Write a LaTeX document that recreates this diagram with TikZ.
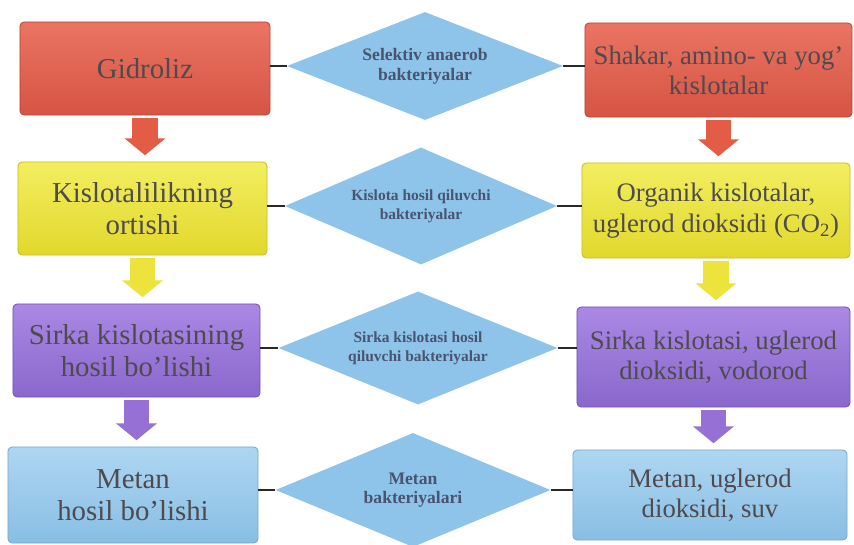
\documentclass[tikz,border=0pt]{standalone}
\usepackage{fontspec}
\setmainfont{Liberation Serif}
\usetikzlibrary{arrows.meta,positioning,shapes.geometric}
\definecolor{redtop}{RGB}{234,116,98}
\definecolor{redbot}{RGB}{214,84,68}
\definecolor{rededge}{RGB}{186,68,56}
\definecolor{yeltop}{RGB}{242,238,96}
\definecolor{yelbot}{RGB}{226,216,44}
\definecolor{yeledge}{RGB}{198,188,40}
\definecolor{purtop}{RGB}{170,136,228}
\definecolor{purbot}{RGB}{138,104,204}
\definecolor{puredge}{RGB}{112,84,176}
\definecolor{blutop}{RGB}{174,214,242}
\definecolor{blubot}{RGB}{136,190,228}
\definecolor{bluedge}{RGB}{118,168,206}
\definecolor{diacol}{RGB}{142,196,234}
\definecolor{txtcol}{RGB}{78,74,78}
\definecolor{diatxt}{RGB}{72,84,112}
\definecolor{linkcol}{RGB}{40,40,40}
\definecolor{arrred}{RGB}{226,92,70}
\definecolor{arryel}{RGB}{236,228,60}
\definecolor{arrpur}{RGB}{150,112,212}

\begin{document}
\begin{tikzpicture}[
  x=0.025cm, y=-0.025cm,
  stage/.style={
    draw=#1edge, line width=0.6pt, rounded corners=3pt,
    top color=#1top, bottom color=#1bot,
    align=center, text=txtcol, inner sep=2pt,
    font=\fontsize{20.5}{23}\selectfont
  },
  product/.style={
    draw=#1edge, line width=0.6pt, rounded corners=3pt,
    top color=#1top, bottom color=#1bot,
    align=center, text=txtcol, inner sep=2pt,
    font=\fontsize{19}{21.5}\selectfont
  },
  bact/.style={
    diamond, aspect=2.5, fill=diacol, inner sep=0pt, align=center, text=diatxt,
    font=\fontsize{12.5}{14}\selectfont\bfseries
  },
  link/.style={draw=linkcol, line width=1.1pt},
  down/.style={draw=#1, line width=17.8pt, shorten <=2pt, shorten >=4.5pt,
    -{Triangle[width=28.5pt,length=12pt]}}
]
\useasboundingbox (0,0) rectangle (854,545);

%% ===================== Left column: stages =====================
\node[stage=red, minimum width=6.25cm,  minimum height=2.325cm] (l1) at (145,68.5)  {Gidroliz};
\node[stage=yel, minimum width=6.225cm, minimum height=2.325cm] (l2) at (142.5,208.5) {Kislotalilikning\\ortishi};
\node[stage=pur, minimum width=6.175cm, minimum height=2.325cm] (l3) at (136.5,350.5) {Sirka kislotasining\\hosil bo'lishi};
\node[stage=blu, minimum width=6.25cm,  minimum height=2.4cm]   (l4) at (133,495)   {Metan\\hosil bo'lishi};

%% ===================== Middle: bacteria ========================
\node[bact, minimum width=6.9cm,   minimum height=2.7cm]   (d1) at (425,66)  {Selektiv anaerob\\bakteriyalar};
\node[bact, minimum width=6.8cm,   minimum height=2.925cm, font=\fontsize{11}{13.5}\selectfont\bfseries] (d2) at (421,206) {Kislota hosil qiluvchi\\bakteriyalar};
\node[bact, minimum width=6.975cm, minimum height=2.825cm, font=\fontsize{11}{13.5}\selectfont\bfseries] (d3) at (418,348) {Sirka kislotasi hosil\\qiluvchi bakteriyalar};
\node[bact, minimum width=6.875cm, minimum height=2.85cm]  (d4) at (413,490) {Metan\\bakteriyalari};

%% ===================== Right column: products ==================
\node[product=red, minimum width=6.675cm, minimum height=2.35cm]  (r1) at (718.5,70)  {Shakar, amino- va yog'\\kislotalar};
\node[product=yel, minimum width=6.7cm,   minimum height=2.375cm] (r2) at (716,210.5) {Organik kislotalar,\\uglerod dioksidi (CO\textsubscript{2})};
\node[product=pur, minimum width=6.825cm, minimum height=2.5cm]   (r3) at (713.5,357) {Sirka kislotasi, uglerod\\dioksidi, vodorod};
\node[product=blu, minimum width=6.85cm,  minimum height=2.25cm]  (r4) at (710,495)   {Metan, uglerod\\dioksidi, suv};

%% ===================== Short links =============================
\draw[link] (d1.west -| l1.east) -- (d1.west);
\draw[link] (d2.west -| l2.east) -- (d2.west);
\draw[link] (d3.west -| l3.east) -- (d3.west);
\draw[link] (d4.west -| l4.east) -- (d4.west);
\draw[link] (d1.east) -- (d1.east -| r1.west);
\draw[link] (d2.east) -- (d2.east -| r2.west);
\draw[link] (d3.east) -- (d3.east -| r3.west);
\draw[link] (d4.east) -- (d4.east -| r4.west);

%% ===================== Block arrows ============================
\draw[down=arrred] (l1.south) -- (l1.south |- l2.north);
\draw[down=arryel] (l2.south) -- (l2.south |- l3.north);
\draw[down=arrpur] (l3.south) -- (l3.south |- l4.north);
\draw[down=arrred] (r1.south) -- (r1.south |- r2.north);
\draw[down=arryel] (r2.south) -- (r2.south |- r3.north);
\draw[down=arrpur] (r3.south) -- (r3.south |- r4.north);

\end{tikzpicture}
\end{document}
